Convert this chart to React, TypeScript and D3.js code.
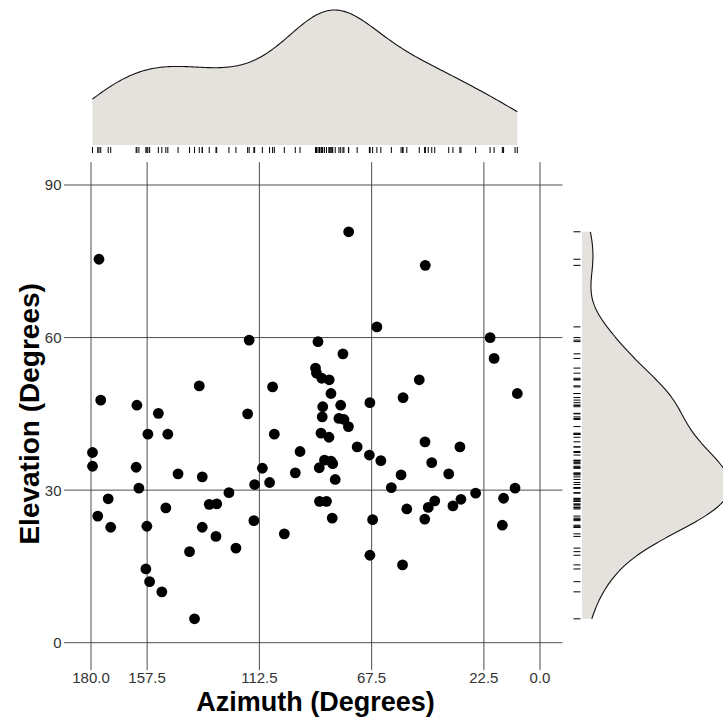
import React from "react";
import * as d3 from "d3";

const azimuth = [
  176.8, 116.6, 176.1, 161.6, 136.6, 107.2, 153.0, 117.2, 76.7, 46.0,
  65.4, 89.0, 79.0, 20.0, 18.4, 90.0, 89.6, 87.5, 84.5, 83.8,
  48.4, 54.9, 9.1, 87.1, 79.9, 68.2, 157.2, 149.2, 106.5, 179.4,
  96.2, 179.4, 161.9, 145.1, 135.4, 111.3, 98.1, 160.8, 114.4, 108.4,
  124.7, 173.1, 150.0, 132.6, 129.6, 177.3, 172.1, 157.6, 135.4, 114.7,
  129.9, 102.5, 121.9, 140.5, 158.0, 156.5, 151.6, 138.5, 87.3, 80.6,
  78.6, 76.8, 87.8, 84.6, 46.1, 32.1, 73.3, 68.4, 63.8, 43.4,
  86.4, 83.8, 88.5, 83.1, 82.1, 55.7, 36.6, 59.6, 25.8, 10.0,
  14.6, 88.4, 85.6, 42.2, 44.8, 31.7, 34.9, 53.4, 83.3, 67.1,
  46.2, 15.1, 68.2, 55.1,
];

const elevation = [
  75.4, 59.5, 47.7, 46.7, 50.5, 50.3, 45.1, 45.0, 80.8, 74.2,
  62.1, 59.2, 56.8, 60.0, 55.9, 54.0, 53.0, 52.0, 51.7, 49.0,
  51.7, 48.2, 49.0, 46.4, 46.7, 47.2, 41.0, 41.0, 41.0, 37.4,
  37.6, 34.7, 34.5, 33.2, 32.6, 34.3, 33.4, 30.4, 31.1, 31.5,
  29.5, 28.3, 26.5, 27.2, 27.3, 24.9, 22.7, 22.9, 22.7, 24.0,
  20.9, 21.4, 18.6, 17.9, 14.5, 12.0, 10.0, 4.7, 44.4, 44.1,
  43.9, 42.5, 41.2, 40.4, 39.5, 38.5, 38.5, 36.9, 35.8, 35.4,
  35.9, 35.7, 34.4, 35.2, 32.1, 33.0, 33.2, 30.5, 29.4, 30.4,
  28.4, 27.8, 27.8, 27.9, 26.6, 28.2, 26.9, 26.3, 24.5, 24.2,
  24.3, 23.1, 17.2, 15.3,
];

const xTicks = [180, 157.5, 112.5, 67.5, 22.5, 0];
const yTicks = [0, 30, 60, 90];
const xTitle = "Azimuth (Degrees)";
const yTitle = "Elevation (Degrees)";

function bwNrd0(v: number[]) {
  const s = d3.deviation(v) as number;
  const sorted = [...v].sort((a, b) => a - b);
  const iqr = (d3.quantileSorted(sorted, 0.75) as number) - (d3.quantileSorted(sorted, 0.25) as number);
  const lo = Math.min(s, iqr / 1.34);
  return 0.9 * lo * Math.pow(v.length, -0.2);
}

function kde(v: number[], n = 256) {
  const bw = bwNrd0(v);
  const [mn, mx] = d3.extent(v) as [number, number];
  const pts: [number, number][] = [];
  for (let i = 0; i < n; i++) {
    const t = mn + ((mx - mn) * i) / (n - 1);
    let s = 0;
    for (const x of v) {
      const z = (t - x) / bw;
      s += Math.exp(-0.5 * z * z);
    }
    pts.push([t, s / (v.length * bw * Math.sqrt(2 * Math.PI))]);
  }
  return pts;
}

export default function App() {
  const W = 723, H = 717;
  const x = d3.scaleLinear().domain([180, 0]).range([91, 540]);
  const y = d3.scaleLinear().domain([0, 90]).range([642.7, 185]);
  const pL = x(189), pR = x(-9), pT = y(94.5), pB = y(-4.5);

  const dTop = kde(azimuth);
  const dRight = kde(elevation);
  const topMax = d3.max(dTop, (d) => d[1]) as number;
  const rightMax = d3.max(dRight, (d) => d[1]) as number;
  const yTop = d3.scaleLinear().domain([0, topMax]).range([145, 10]);
  const xRight = d3.scaleLinear().domain([0, rightMax]).range([582, 730]);

  const topArea = d3.area<[number, number]>().x((d) => x(d[0])).y0(145).y1((d) => yTop(d[1]));
  const topLine = d3.line<[number, number]>().x((d) => x(d[0])).y((d) => yTop(d[1]));
  const rightArea = d3.area<[number, number]>().y((d) => y(d[0])).x0(582).x1((d) => xRight(d[1]));
  const rightLine = d3.line<[number, number]>().y((d) => y(d[0])).x((d) => xRight(d[1]));

  const font = "'Liberation Sans', Arial, sans-serif";
  const grid = "#3a3a3a";

  return (
    <svg width={W} height={H} style={{ position: "absolute", left: 0, top: 0, background: "#fff" }} fontFamily={font}>
      {/* top marginal */}
      <path d={topArea(dTop) as string} fill="#e5e2de" stroke="none" />
      <path d={topLine(dTop) as string} fill="none" stroke="#111" strokeWidth={1.1} />
      {azimuth.map((a, i) => (
        <line key={"rt" + i} x1={x(a)} x2={x(a)} y1={147} y2={153} stroke="#000" strokeWidth={1} />
      ))}
      {/* right marginal */}
      <path d={rightArea(dRight) as string} fill="#e5e2de" stroke="none" />
      <path d={rightLine(dRight) as string} fill="none" stroke="#111" strokeWidth={1.1} />
      {elevation.map((e, i) => (
        <line key={"rr" + i} y1={y(e)} y2={y(e)} x1={573.5} x2={580.5} stroke="#000" strokeWidth={1} />
      ))}
      {/* grid */}
      {yTicks.map((t) => (
        <g key={"yt" + t}>
          <line x1={pL - 4.5} x2={pR} y1={y(t)} y2={y(t)} stroke={grid} strokeWidth={0.9} />
          <text x={pL - 7} y={y(t)} dy="0.36em" textAnchor="end" fontSize={15} fill="#333">{t}</text>
        </g>
      ))}
      {xTicks.map((t) => (
        <g key={"xt" + t}>
          <line x1={x(t)} x2={x(t)} y1={pT} y2={pB + 4.5} stroke={grid} strokeWidth={0.9} />
          <text x={x(t)} y={683} textAnchor="middle" fontSize={15} fill="#333">{t.toFixed(1)}</text>
        </g>
      ))}
      {/* points */}
      {azimuth.map((a, i) => (
        <circle key={"p" + i} cx={x(a)} cy={y(elevation[i])} r={5.4} fill="#000" />
      ))}
      {/* titles */}
      <text x={(pL + pR) / 2} y={711} textAnchor="middle" fontSize={27} fontWeight="bold" fill="#000">{xTitle}</text>
      <text transform={`translate(${39},${(pT + pB) / 2}) rotate(-90)`} textAnchor="middle" fontSize={28} fontWeight="bold" fill="#000">{yTitle}</text>
    </svg>
  );
}
